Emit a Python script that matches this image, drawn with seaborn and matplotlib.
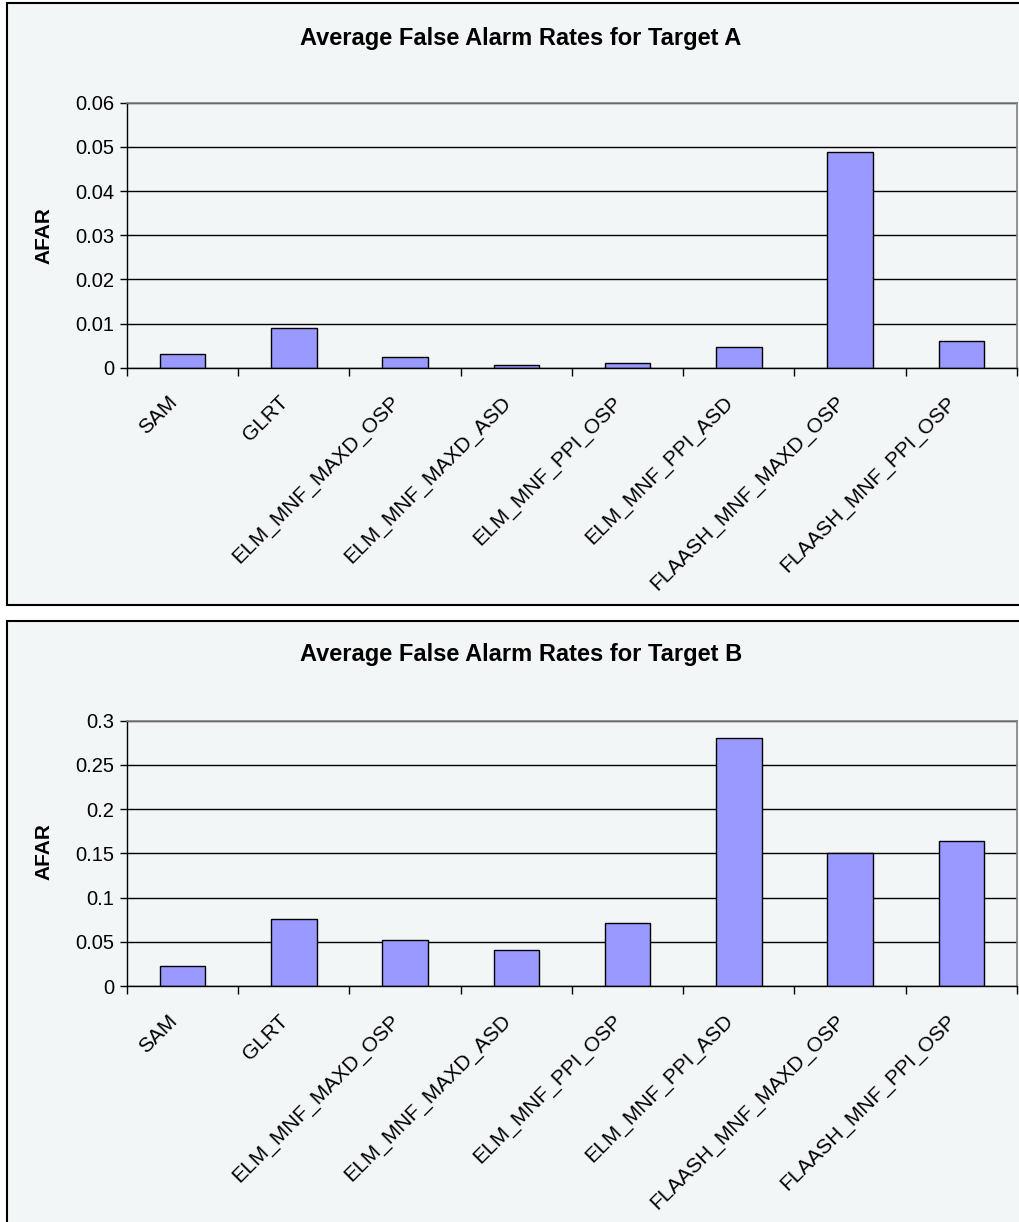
import matplotlib
matplotlib.use("Agg")
import matplotlib.pyplot as plt
import matplotlib.transforms as mtransforms
from matplotlib.patches import Rectangle
import seaborn as sns
import pandas as pd

methods = ["SAM", "GLRT", "ELM_MNF_MAXD_OSP", "ELM_MNF_MAXD_ASD",
           "ELM_MNF_PPI_OSP", "ELM_MNF_PPI_ASD", "FLAASH_MNF_MAXD_OSP",
           "FLAASH_MNF_PPI_OSP"]
afar_a = [0.0031, 0.0091, 0.0025, 0.0006, 0.0010, 0.0046, 0.0488, 0.0060]
afar_b = [0.023, 0.076, 0.0516, 0.0407, 0.0708, 0.280, 0.150, 0.1635]
ticks_a = [0, 0.01, 0.02, 0.03, 0.04, 0.05, 0.06]
ticks_b = [0, 0.05, 0.1, 0.15, 0.2, 0.25, 0.3]
ticklabels_a = ["0", "0.01", "0.02", "0.03", "0.04", "0.05", "0.06"]
ticklabels_b = ["0", "0.05", "0.1", "0.15", "0.2", "0.25", "0.3"]

sns.set_style("white")
plt.rcParams["font.family"] = ["Liberation Sans", "DejaVu Sans"]
plt.rcParams["text.color"] = "black"
plt.rcParams["xtick.color"] = "black"
plt.rcParams["ytick.color"] = "black"

BG = "#F3F6F7"
W, H = 1020, 1222
fig = plt.figure(figsize=(W / 100, H / 100), dpi=100)
fig.patch.set_facecolor("white")

# panel frames (pixels: y_top, y_bottom)
for y_top, y_bot in [(3, 605), (621, 1224)]:
    fig.patches.append(Rectangle((7 / W, 1 - y_bot / H), (W + 10) / W,
                                 (y_bot - y_top) / H, transform=fig.transFigure,
                                 facecolor=BG, edgecolor="black", linewidth=1.5,
                                 zorder=-5))


def draw_panel(ax, values, ticks, ticklabels, title, title_y, label_y):
    df = pd.DataFrame({"method": methods, "afar": values})
    sns.barplot(data=df, x="method", y="afar", ax=ax, color="#9999FF",
                edgecolor="black", linewidth=1, width=0.41, saturation=1)
    ax.set_facecolor(BG)
    ax.set_xlim(-0.5, len(methods) - 0.5)
    ax.set_ylim(ticks[0], ticks[-1])
    ax.set_yticks(ticks)
    ax.set_yticklabels(ticklabels, fontsize=14.5)
    ax.yaxis.grid(True, color="black", linewidth=1)
    ax.set_axisbelow(True)
    ax.tick_params(axis="y", direction="out", length=5, width=1, color="black",
                   left=True, pad=4)
    ax.set_xticks(range(len(methods)))
    ax.set_xticklabels(methods, rotation=45, ha="right",
                       rotation_mode="anchor", fontsize=15)
    ax.tick_params(axis="x", which="major", length=0, pad=21)
    ax.set_xticks([i - 0.5 for i in range(len(methods) + 1)], minor=True)
    ax.tick_params(axis="x", which="minor", direction="out", length=6,
                   width=1, color="black", bottom=True)
    offset = mtransforms.ScaledTranslation(-11 / 72, 3 / 72, fig.dpi_scale_trans)
    for lab in ax.get_xticklabels():
        lab.set_transform(lab.get_transform() + offset)
    ax.set_xlabel("")
    ax.set_ylabel("")
    for side in ["left", "bottom"]:
        ax.spines[side].set_color("black")
        ax.spines[side].set_linewidth(1)
    for side in ["top", "right"]:
        ax.spines[side].set_color("#808080")
        ax.spines[side].set_linewidth(1.2)
    fig.text(521 / W, 1 - title_y / H, title, ha="center", va="center",
             fontsize=17, fontweight="bold")
    fig.text(44 / W, 1 - label_y / H, "AFAR", ha="center", va="center",
             rotation=90, fontsize=15, fontweight="bold")


ax1 = fig.add_axes([127 / W, 1 - 367.7 / H, 890 / W, 265 / H])
draw_panel(ax1, afar_a, ticks_a, ticklabels_a,
           "Average False Alarm Rates for Target A", 38, 236)

ax2 = fig.add_axes([127 / W, 1 - 986 / H, 890 / W, 265.3 / H])
draw_panel(ax2, afar_b, ticks_b, ticklabels_b,
           "Average False Alarm Rates for Target B", 655, 852)

fig.savefig("out.png", dpi=100, facecolor="white")
